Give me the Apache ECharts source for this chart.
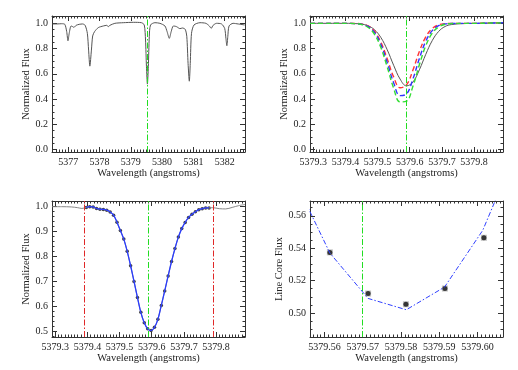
<!DOCTYPE html>
<html>
<head>
<meta charset="utf-8">
<script src="https://cdn.jsdelivr.net/npm/echarts@6/dist/echarts.min.js"></script>
<style>
  html, body { margin: 0; padding: 0; background: #fff; }
  #chart { width: 518px; height: 370px; }
</style>
</head>
<body>
<div id="chart"></div>
<script>
// ---- panel 1: wide spectrum ----
var wideWave = [5376.49, 5376.63, 5376.79, 5376.89, 5376.95, 5376.99, 5377.03, 5377.09, 5377.14, 5377.18,
  5377.25, 5377.35, 5377.46, 5377.54, 5377.61, 5377.65, 5377.69, 5377.74, 5377.78, 5377.84,
  5377.96, 5378.12, 5378.23, 5378.28, 5378.33, 5378.49, 5378.76, 5379.08, 5379.34, 5379.43,
  5379.47, 5379.50, 5379.53, 5379.56, 5379.59, 5379.63, 5379.77, 5379.93, 5380.09, 5380.16,
  5380.23, 5380.29, 5380.36, 5380.46, 5380.57, 5380.65, 5380.74, 5380.79, 5380.83, 5380.87,
  5380.90, 5380.94, 5381.02, 5381.21, 5381.40, 5381.51, 5381.57, 5381.63, 5381.74, 5381.90,
  5382.00, 5382.04, 5382.07, 5382.10, 5382.14, 5382.27, 5382.43, 5382.64];
var wideFlux = [0.995, 0.995, 0.997, 0.992, 0.934, 0.862, 0.921, 0.979, 0.974, 0.968,
  0.984, 0.992, 0.995, 0.984, 0.921, 0.788, 0.661, 0.788, 0.900, 0.934,
  0.966, 0.979, 0.984, 0.974, 0.984, 1.000, 1.005, 1.008, 1.005, 0.987,
  0.868, 0.656, 0.519, 0.656, 0.894, 0.987, 1.005, 1.000, 0.979, 0.934,
  0.881, 0.934, 0.979, 0.974, 0.958, 0.963, 0.952, 0.894, 0.683, 0.542,
  0.683, 0.921, 0.987, 1.005, 1.000, 0.979, 0.960, 0.984, 1.000, 0.995,
  0.960, 0.881, 0.823, 0.894, 0.979, 1.000, 0.995, 0.987];
var wideCenter = 5379.53;

// ---- panel 2: observed line and shifted models ----
var zoomWave = [5379.29, 5379.33, 5379.37, 5379.41, 5379.43, 5379.45, 5379.47, 5379.49, 5379.51, 5379.53,
  5379.55, 5379.57, 5379.59, 5379.61, 5379.63, 5379.65, 5379.67, 5379.69, 5379.71, 5379.73,
  5379.77, 5379.81, 5379.85, 5379.89];
var obsFlux = [1.000, 1.000, 1.000, 1.000, 0.998, 0.994, 0.981, 0.950, 0.889, 0.791,
  0.668, 0.559, 0.505, 0.535, 0.632, 0.755, 0.863, 0.936, 0.975, 0.990,
  0.998, 1.000, 1.002, 1.005];
var redFlux = [1.000, 1.000, 1.000, 1.000, 0.999, 0.995, 0.980, 0.939, 0.853, 0.720,
  0.576, 0.490, 0.513, 0.630, 0.777, 0.893, 0.959, 0.988, 0.997, 1.000,
  1.000, 1.000, 1.002, 1.004];
var blueFlux = [1.000, 1.000, 1.000, 1.000, 0.998, 0.993, 0.976, 0.930, 0.835, 0.690,
  0.530, 0.428, 0.441, 0.560, 0.722, 0.859, 0.942, 0.981, 0.995, 0.999,
  1.000, 1.000, 1.002, 1.004];
var greenFlux = [1.000, 1.000, 1.000, 1.000, 0.998, 0.991, 0.969, 0.915, 0.810, 0.655,
  0.487, 0.378, 0.384, 0.502, 0.672, 0.823, 0.922, 0.972, 0.992, 0.998,
  1.000, 1.000, 1.002, 1.004];
var lineCenter = 5379.589;

// ---- panel 3: fitted window ----
var fitWave = [5379.3966, 5379.4072, 5379.4178, 5379.4284, 5379.4390, 5379.4496, 5379.4602, 5379.4708, 5379.4814, 5379.4920,
  5379.5026, 5379.5132, 5379.5238, 5379.5344, 5379.5450, 5379.5556, 5379.5662, 5379.5768, 5379.5874, 5379.5980,
  5379.6086, 5379.6192, 5379.6298, 5379.6404, 5379.6510, 5379.6616, 5379.6722, 5379.6828, 5379.6934, 5379.7040,
  5379.7146, 5379.7252, 5379.7358, 5379.7464, 5379.7570, 5379.7676, 5379.7782];
var fitFlux = [0.997, 1.000, 0.999, 0.993, 0.990, 0.989, 0.986, 0.979, 0.966, 0.938,
  0.904, 0.870, 0.821, 0.763, 0.700, 0.636, 0.576, 0.534, 0.510, 0.503,
  0.516, 0.548, 0.604, 0.662, 0.722, 0.780, 0.832, 0.878, 0.912, 0.937,
  0.957, 0.970, 0.980, 0.988, 0.992, 0.995, 0.995];
var contLeftWave = [5379.29, 5379.32, 5379.35, 5379.37, 5379.383];
var contLeftFlux = [1.000, 1.000, 0.999, 0.996, 0.993];
var contRightWave = [5379.79, 5379.81, 5379.83, 5379.85, 5379.87, 5379.89];
var contRightFlux = [0.996, 0.992, 0.991, 0.997, 1.004, 1.009];
var windowEdges = [5379.3885, 5379.7875];

// ---- panel 4: line core ----
var coreWave = [5379.5614, 5379.5714, 5379.5813, 5379.5915, 5379.6017];
var coreFlux = [0.5374, 0.5120, 0.5054, 0.5151, 0.5464];
var modelWave = [5379.5514, 5379.5614, 5379.5714, 5379.5814, 5379.5914, 5379.6014, 5379.6114];
var modelFlux = [0.586, 0.537, 0.509, 0.502, 0.516, 0.551, 0.607];
var coreCenter = 5379.5698;

// ---- tick labels ----
var ticksWideX = [5377, 5378, 5379, 5380, 5381, 5382];
var ticksFluxY = [0.0, 0.2, 0.4, 0.6, 0.8, 1.0];
var ticksZoomX = [5379.3, 5379.4, 5379.5, 5379.6, 5379.7, 5379.8];
var ticksFitY = [0.5, 0.6, 0.7, 0.8, 0.9, 1.0];
var ticksCoreX = [5379.56, 5379.57, 5379.58, 5379.59, 5379.60];
var ticksCoreY = [0.50, 0.52, 0.54, 0.56];

var FONT = 'Liberation Serif';
var INK = '#222';
var FRAME = '#333';

function pairs(xs, ys) {
  var out = [];
  for (var i = 0; i < xs.length; i++) out.push([xs[i], ys[i]]);
  return out;
}

function minorTicks(majors, n, min, max) {
  var step = (majors[1] - majors[0]) / n;
  var v = majors[0] - Math.floor((majors[0] - min) / step + 1e-9) * step;
  var out = [];
  for (; v <= max + 1e-9; v += step) out.push(+v.toFixed(6));
  return out;
}

// four axes per side pair: main (labels + major ticks), minor ticks, mirrored major, mirrored minor
function frameAxes(dim, grid, min, max, majors, nMinor, digits, name, nameGap) {
  var minors = minorTicks(majors, nMinor, min, max);
  var pos = dim === 'x' ? ['bottom', 'top'] : ['left', 'right'];
  function ax(p, ticks, len, line, labels) {
    var a = {
      type: 'value', gridIndex: grid, min: min, max: max, position: p,
      splitLine: { show: false },
      axisLine: { show: line, onZero: false, lineStyle: { color: FRAME, width: 1 } },
      axisTick: { show: true, inside: true, length: len, customValues: ticks, lineStyle: { color: FRAME, width: 1 } },
      axisLabel: { show: false }
    };
    if (labels) {
      a.axisLabel = {
        show: true, customValues: majors, margin: dim === 'x' ? 5 : 4,
        hideOverlap: false, showMinLabel: true, showMaxLabel: true,
        fontFamily: FONT, fontSize: 10, color: INK,
        formatter: function (v) { return (+v).toFixed(digits); }
      };
      a.name = name;
      a.nameLocation = 'middle';
      a.nameGap = nameGap;
      a.nameTextStyle = { fontFamily: FONT, fontSize: 10.5, color: INK };
    }
    return a;
  }
  return [
    ax(pos[0], majors, 5, true, true),
    ax(pos[0], minors, 2.5, false, false),
    ax(pos[1], majors, 5, true, false),
    ax(pos[1], minors, 2.5, false, false)
  ];
}

function vline(x, color) {
  return {
    silent: true, symbol: ['none', 'none'], animation: false,
    label: { show: false },
    lineStyle: { color: color, width: 1, type: [6, 2, 1.5, 2] },
    data: x.map(function (v) { return { xAxis: v }; })
  };
}

var xAxes = [].concat(
  frameAxes('x', 0, 5376.48, 5382.65, ticksWideX, 10, 0, 'Wavelength (angstroms)', 16),
  frameAxes('x', 1, 5379.29, 5379.89, ticksZoomX, 10, 1, 'Wavelength (angstroms)', 16),
  frameAxes('x', 2, 5379.29, 5379.89, ticksZoomX, 10, 1, 'Wavelength (angstroms)', 16),
  frameAxes('x', 3, 5379.5562, 5379.6067, ticksCoreX, 10, 2, 'Wavelength (angstroms)', 16)
);
var yAxes = [].concat(
  frameAxes('y', 0, -0.0185, 1.058, ticksFluxY, 4, 1, 'Normalized Flux', 19),
  frameAxes('y', 1, -0.0185, 1.058, ticksFluxY, 4, 1, 'Normalized Flux', 19),
  frameAxes('y', 2, 0.4772, 1.0228, ticksFitY, 5, 1, 'Normalized Flux', 19),
  frameAxes('y', 3, 0.4852, 0.5691, ticksCoreY, 4, 2, 'Line Core Flux', 25)
);

function lineSeries(g, data, color, width, type, smooth, extra) {
  var s = {
    type: 'line', xAxisIndex: g * 4, yAxisIndex: g * 4, data: data,
    showSymbol: false, smooth: smooth, animation: false, silent: true,
    lineStyle: { color: color, width: width, type: type }
  };
  for (var k in extra) s[k] = extra[k];
  return s;
}

var grayLine = pairs(contLeftWave, contLeftFlux).concat(pairs(fitWave, fitFlux), pairs(contRightWave, contRightFlux));

var option = {
  animation: false,
  backgroundColor: '#fff',
  grid: [
    { left: 52, top: 16, width: 193, height: 136 },
    { left: 310, top: 16, width: 193, height: 136 },
    { left: 52, top: 201, width: 193, height: 136 },
    { left: 310, top: 201, width: 193, height: 136 }
  ],
  xAxis: xAxes,
  yAxis: yAxes,
  series: [
    lineSeries(0, pairs(wideWave, wideFlux), '#555', 1, 'solid', 0.25, { markLine: vline([wideCenter], '#22dd22') }),

    lineSeries(1, pairs(zoomWave, obsFlux), '#555', 1, 'solid', 0.4, { markLine: vline([lineCenter], '#22dd22') }),
    lineSeries(1, pairs(zoomWave, redFlux), '#ff3333', 1.4, [5, 3], 0.4),
    lineSeries(1, pairs(zoomWave, blueFlux), '#3333ff', 1.4, [5, 3], 0.4),
    lineSeries(1, pairs(zoomWave, greenFlux), '#33dd33', 1.4, [5, 3], 0.4),

    lineSeries(2, grayLine, '#888', 1, 'solid', 0.3, { markLine: vline(windowEdges, '#e02828') }),
    lineSeries(2, pairs(fitWave, fitFlux), '#2a3cff', 1.3, 'solid', 0.3, { markLine: vline([lineCenter], '#22dd22') }),
    { type: 'scatter', xAxisIndex: 8, yAxisIndex: 8, data: pairs(fitWave, fitFlux), symbol: 'circle', symbolSize: 3.5,
      itemStyle: { color: '#111' }, animation: false, silent: true },

    lineSeries(3, pairs(modelWave, modelFlux), '#3040ff', 1, [5, 2, 1.5, 2], false, { markLine: vline([coreCenter], '#22dd22') }),
    { type: 'scatter', xAxisIndex: 12, yAxisIndex: 12, data: pairs(coreWave, coreFlux), symbol: 'rect', symbolSize: 6,
      itemStyle: { color: '#b0b0b0' }, animation: false, silent: true },
    { type: 'scatter', xAxisIndex: 12, yAxisIndex: 12, data: pairs(coreWave, coreFlux), symbol: 'circle', symbolSize: 5,
      itemStyle: { color: '#111' }, animation: false, silent: true }
  ]
};

var chart = echarts.init(document.getElementById('chart'), null, { renderer: 'canvas' });
chart.setOption(option);
</script>
</body>
</html>
